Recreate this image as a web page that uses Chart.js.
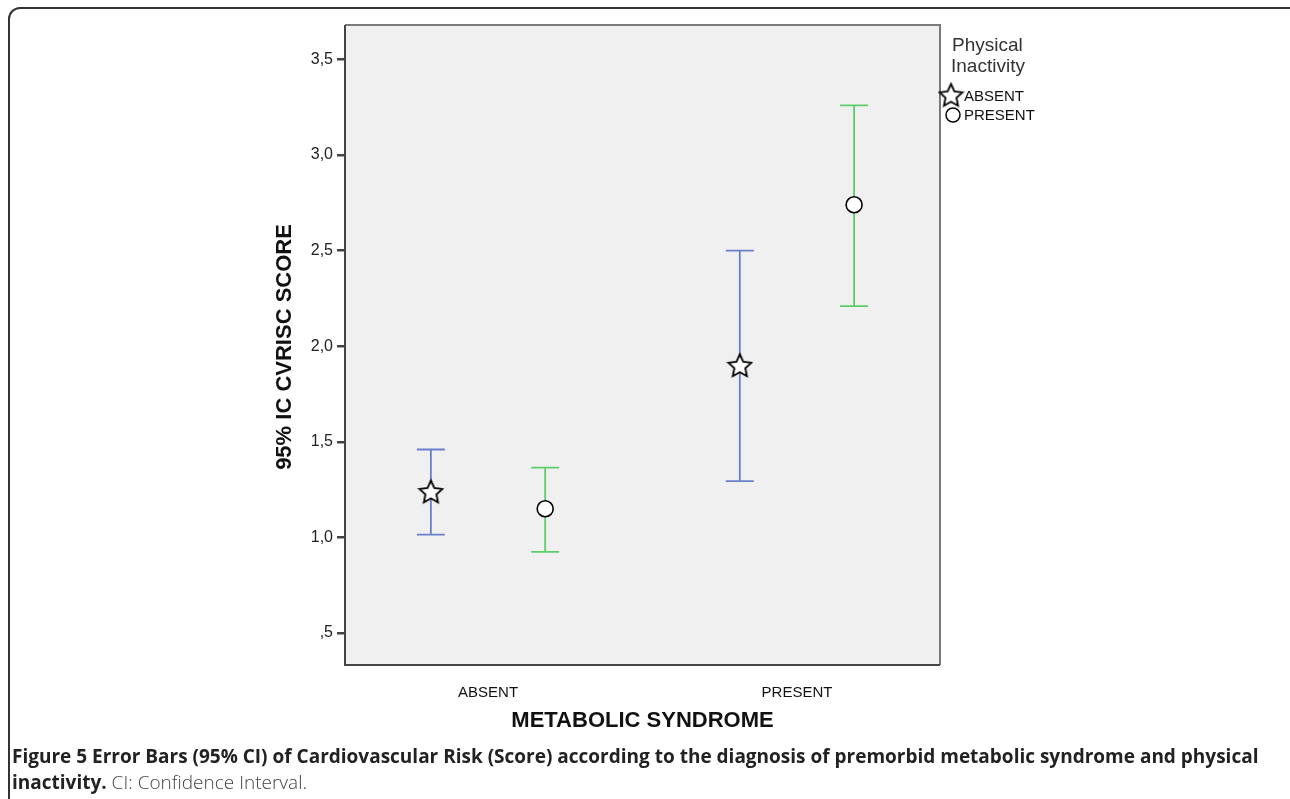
<!DOCTYPE html>
<html>
<head>
<meta charset="utf-8">
<script src="https://cdn.jsdelivr.net/npm/chart.js@4.4.1/dist/chart.umd.min.js"></script>
<style>
  body { margin: 0; background: #fff; width: 1290px; height: 799px; overflow: hidden; position: relative; }
  #frame { position: absolute; left: 8px; top: 7px; width: 1310px; height: 830px; border: 2px solid #333; border-radius: 12px; box-sizing: border-box; }
  #wrap { position: absolute; left: 0; top: 0; width: 1290px; height: 745px; }
  #caption { position: absolute; left: 12px; top: 743px; width: 1275px; font-family: "Open Sans", sans-serif; font-size: 19px; line-height: 26px; color: #222; }
  #caption b { font-weight: 700; }
  #caption span { font-weight: 300; color: #444; }
</style>
</head>
<body>
<div id="frame"></div>
<div id="wrap"><canvas id="chart" width="1290" height="745"></canvas></div>
<div id="caption"><b>Figure 5 Error Bars (95% CI) of Cardiovascular Risk (Score) according to the diagnosis of premorbid metabolic syndrome and physical inactivity.</b> <span>CI: Confidence Interval.</span></div>
<script>
let categories = ['ABSENT', 'PRESENT']
let groups = ['ABSENT', 'PRESENT']
let meanAbsent = [1.24, 1.90]
let lowAbsent = [1.015, 1.295]
let highAbsent = [1.46, 2.50]
let meanPresent = [1.15, 2.74]
let lowPresent = [0.925, 2.21]
let highPresent = [1.365, 3.26]
let yTicks = [0.5, 1.0, 1.5, 2.0, 2.5, 3.0, 3.5]

let dodge = 0.185

// five point star for the marker
function makeStar(size) {
  let c = document.createElement('canvas')
  c.width = size; c.height = size
  let g = c.getContext('2d')
  let cx = size / 2, cy = size / 2 + 1, ro = size / 2 - 1.5, ri = ro * 0.48
  g.beginPath()
  for (let i = 0; i < 10; i++) {
    let r = i % 2 ? ri : ro
    let a = -Math.PI / 2 + i * Math.PI / 5
    g.lineTo(cx + r * Math.cos(a), cy + r * Math.sin(a))
  }
  g.closePath()
  g.fillStyle = '#fff'
  g.fill()
  g.lineWidth = 1.8
  g.strokeStyle = '#000'
  g.stroke()
  return c
}
let star = makeStar(27)

function points(means, off) {
  return means.map((m, i) => ({ x: i + off, y: m }))
}

let errorBars = {
  id: 'errorBars',
  beforeDraw(chart) {
    let a = chart.chartArea, ctx = chart.ctx
    ctx.save()
    ctx.fillStyle = '#f0f0f0'
    ctx.fillRect(a.left, a.top, a.right - a.left, a.bottom - a.top)
    ctx.restore()
  },
  beforeDatasetsDraw(chart) {
    let ctx = chart.ctx, xs = chart.scales.x, ys = chart.scales.y
    let sets = [
      [lowAbsent, highAbsent, -dodge, '#6a7fc9'],
      [lowPresent, highPresent, dodge, '#5ccd68']
    ]
    ctx.save()
    sets.forEach(([lo, hi, off, col]) => {
      ctx.strokeStyle = col
      ctx.lineWidth = 1.8
      lo.forEach((l, i) => {
        let x = xs.getPixelForValue(i + off)
        let y1 = ys.getPixelForValue(l), y2 = ys.getPixelForValue(hi[i])
        ctx.beginPath()
        ctx.moveTo(x, y1); ctx.lineTo(x, y2)
        ctx.moveTo(x - 14, y1); ctx.lineTo(x + 14, y1)
        ctx.moveTo(x - 14, y2); ctx.lineTo(x + 14, y2)
        ctx.stroke()
      })
    })
    ctx.restore()
  },
  afterDraw(chart) {
    let a = chart.chartArea, ctx = chart.ctx
    ctx.save()
    // frame of the plot
    ctx.lineWidth = 2
    ctx.strokeStyle = '#7a7a7a'
    ctx.beginPath()
    ctx.moveTo(a.left, a.top); ctx.lineTo(a.right, a.top); ctx.lineTo(a.right, a.bottom)
    ctx.stroke()
    ctx.strokeStyle = '#444'
    ctx.beginPath()
    ctx.moveTo(a.left, a.top); ctx.lineTo(a.left, a.bottom); ctx.lineTo(a.right, a.bottom)
    ctx.stroke()

    // axis titles
    ctx.fillStyle = '#111'
    ctx.font = 'bold 22px "Liberation Sans", Arial, sans-serif'
    ctx.textAlign = 'center'
    ctx.textBaseline = 'middle'
    ctx.fillText('METABOLIC SYNDROME', (a.left + a.right) / 2, 721)
    ctx.save()
    ctx.translate(285, (a.top + a.bottom) / 2 + 2)
    ctx.rotate(-Math.PI / 2)
    ctx.fillText('95% IC CVRISC SCORE', 0, 0)
    ctx.restore()

    // legend
    ctx.fillStyle = '#333'
    ctx.textAlign = 'left'
    ctx.font = '19px "Liberation Sans", Arial, sans-serif'
    ctx.fillText('Physical', 952, 46)
    ctx.fillText('Inactivity', 951, 67)
    ctx.font = '15px "Liberation Sans", Arial, sans-serif'
    ctx.fillStyle = '#111'
    ctx.drawImage(star, 951 - 13.5, 95 - 13.5)
    ctx.fillText(groups[0], 964, 97)
    ctx.beginPath()
    ctx.arc(953, 115, 7, 0, Math.PI * 2)
    ctx.fillStyle = '#fff'
    ctx.fill()
    ctx.lineWidth = 1.5
    ctx.strokeStyle = '#000'
    ctx.stroke()
    ctx.fillStyle = '#111'
    ctx.fillText(groups[1], 964, 116)
    ctx.restore()
  }
}

let ctx = document.getElementById('chart')
let cvChart = new Chart(ctx, {
  type: 'scatter',
  data: {
    datasets: [{
      label: groups[0],
      data: points(meanAbsent, -dodge),
      pointStyle: star,
      pointRadius: 13
    }, {
      label: groups[1],
      data: points(meanPresent, dodge),
      pointStyle: 'circle',
      pointRadius: 8,
      pointBackgroundColor: '#fff',
      pointBorderColor: '#000',
      pointBorderWidth: 1.6
    }]
  },
  options: {
    responsive: false,
    animation: false,
    layout: { padding: { left: 0, top: 25, right: 350, bottom: 0 } },
    plugins: { legend: { display: false }, tooltip: { enabled: false } },
    scales: {
      x: {
        type: 'linear',
        min: -0.463,
        max: 1.463,
        afterBuildTicks: s => { s.ticks = categories.map((c, i) => ({ value: i })) },
        afterFit: s => { s.height = 80 },
        grid: { display: false },
        border: { display: false },
        ticks: {
          callback: v => categories[v],
          padding: 11,
          color: '#111',
          font: { family: '"Liberation Sans", Arial, sans-serif', size: 15 }
        }
      },
      y: {
        min: 0.333,
        max: 3.68,
        afterBuildTicks: s => { s.ticks = yTicks.map(v => ({ value: v })) },
        afterFit: s => { s.width = 345 },
        grid: { drawOnChartArea: false, drawTicks: true, tickLength: 8, color: '#444', lineWidth: 2.5 },
        border: { display: false },
        ticks: {
          callback: v => v.toFixed(1).replace('.', ',').replace(/^0/, ''),
          padding: 4,
          color: '#222',
          font: { family: '"Liberation Sans", Arial, sans-serif', size: 16 }
        }
      }
    }
  },
  plugins: [errorBars]
})
</script>
</body>
</html>
